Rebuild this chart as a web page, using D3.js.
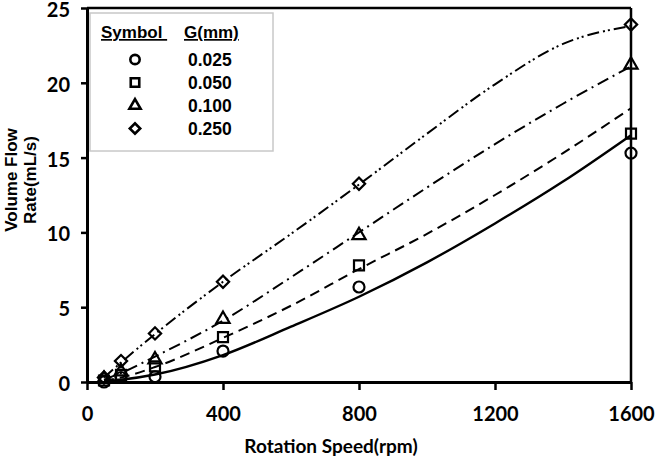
<!DOCTYPE html>
<html>
<head>
<meta charset="utf-8">
<script src="https://cdn.jsdelivr.net/npm/d3@7"></script>
<style>
  body { margin: 0; background: #fff; }
  svg { display: block; }
</style>
</head>
<body>
<div id="chart"></div>
<script>
// measured points
var rpm = [50, 100, 200, 400, 800, 1600];
var meas025 = [0.0, 0.3, 0.35, 2.07, 6.35, 15.3];
var meas050 = [0.1, 0.47, 1.05, 3.0, 7.8, 16.6];
var meas100 = [0.2, 0.7, 1.5, 4.2, 9.8, 21.2];
var meas250 = [0.3, 1.4, 3.25, 6.7, 13.25, 23.9];

// fitted curves
var fitRpm = [50, 100, 200, 400, 600, 800, 1000, 1200, 1400, 1600];
var fit025 = [0.05, 0.15, 0.5, 1.8, 3.7, 5.7, 8.0, 10.6, 13.4, 16.5];
var fit050 = [0.1, 0.3, 1.0, 2.95, 5.1, 7.55, 9.9, 12.5, 15.3, 18.3];
var fit100 = [0.15, 0.6, 1.7, 4.1, 7.0, 10.0, 13.0, 15.9, 18.6, 21.1];
var fit250 = [0.3, 1.3, 3.2, 6.7, 9.9, 13.2, 16.6, 19.9, 22.6, 23.8];

var gLabels = ["0.025", "0.050", "0.100", "0.250"];
var xTicks = [0, 400, 800, 1200, 1600];
var yTicks = [0, 5, 10, 15, 20, 25];

var outwidth = 656, outheight = 464;
var margin = {left: 87, top: 8, right: 25, bottom: 82};
var width = outwidth - margin.left - margin.right;
var height = outheight - margin.top - margin.bottom;

var series = [
    {g: gLabels[0], pts: meas025, fit: fit025, dash: null, sym: "circle"},
    {g: gLabels[1], pts: meas050, fit: fit050, dash: "10,6", sym: "square"},
    {g: gLabels[2], pts: meas100, fit: fit100, dash: "12,5,2,5", sym: "triangle"},
    {g: gLabels[3], pts: meas250, fit: fit250, dash: "12,4,2,3,2,4", sym: "diamond"}
];

var svg = d3.select("#chart").append("svg")
    .attr("width", outwidth)
    .attr("height", outheight);
svg.append("rect").attr("width", outwidth).attr("height", outheight).attr("fill", "#fff");

var g = svg.append("g").attr("transform", `translate(${margin.left},${margin.top})`);

var x = d3.scaleLinear().domain([0, 1600]).range([0, width]);
var y = d3.scaleLinear().domain([0, 25]).range([height, 0]);

function symPath(kind, scale) {
    var s = scale || 1;
    if (kind === "circle") return d3.symbol(d3.symbolCircle, 95 * s * s)();
    if (kind === "square") return d3.symbol(d3.symbolSquare, 100 * s * s)();
    if (kind === "triangle") return d3.symbol(d3.symbolTriangle, 75 * s * s)();
    return d3.symbol(d3.symbolSquare, 75 * s * s)();
}

// frame (top + right)
g.append("line").attr("x1", 0).attr("x2", width).attr("y1", 0).attr("y2", 0)
    .attr("stroke", "#000").attr("stroke-width", 2.5);
g.append("line").attr("x1", width).attr("x2", width).attr("y1", 0).attr("y2", height)
    .attr("stroke", "#000").attr("stroke-width", 2.5);

// axes
var xAxis = g.append("g")
    .attr("transform", `translate(0,${height})`)
    .call(d3.axisBottom(x).tickValues(xTicks).tickFormat(d3.format("d"))
        .tickSize(8).tickSizeOuter(0).tickPadding(17));
var yAxis = g.append("g")
    .call(d3.axisLeft(y).tickValues(yTicks).tickSize(6).tickSizeOuter(0).tickPadding(11));

[xAxis, yAxis].forEach(function (ax) {
    ax.select(".domain").attr("stroke", "#000").attr("stroke-width", 3);
    ax.selectAll(".tick line").attr("stroke", "#000").attr("stroke-width", 2.5);
    ax.selectAll(".tick text")
        .attr("fill", "#000")
        .style("font-family", "Lato, 'Open Sans', sans-serif")
        .style("font-weight", "bold")
        .style("font-size", "20px");
});
yAxis.selectAll(".tick text").attr("dy", "0.42em");

// fitted curves
var line = d3.line()
    .x(function (d) { return x(d[0]); })
    .y(function (d) { return y(d[1]); })
    .curve(d3.curveMonotoneX);

series.forEach(function (s) {
    g.append("path")
        .datum(fitRpm.map(function (r, i) { return [r, s.fit[i]]; }))
        .attr("d", line)
        .attr("fill", "none")
        .attr("stroke", "#000")
        .attr("stroke-width", s.dash ? 2 : 2.4)
        .attr("stroke-dasharray", s.dash);
});

// markers
series.forEach(function (s) {
    g.selectAll(null)
        .data(rpm.map(function (r, i) { return [r, s.pts[i]]; }))
        .join("path")
        .attr("d", symPath(s.sym))
        .attr("transform", function (d) {
            return `translate(${x(d[0])},${y(d[1])})` + (s.sym === "diamond" ? " rotate(45)" : "");
        })
        .attr("fill", "none")
        .attr("stroke", "#000")
        .attr("stroke-width", 2.2);
});

// legend
var leg = svg.append("g").attr("transform", "translate(90,13)");
leg.append("rect").attr("x", 0).attr("y", 0).attr("width", 183).attr("height", 138)
    .attr("fill", "#fff").attr("stroke", "#c8c8c8").attr("stroke-width", 1.5);
var legFont = "'Liberation Sans', Arial, sans-serif";
leg.append("text").attr("x", 11).attr("y", 25).text("Symbol\u00a0")
    .style("font-family", legFont).style("font-weight", "bold").style("font-size", "17px")
    .style("text-decoration", "underline");
leg.append("text").attr("x", 94).attr("y", 25).text("G(mm)")
    .style("font-family", legFont).style("font-weight", "bold").style("font-size", "17px")
    .style("text-decoration", "underline");
series.forEach(function (s, i) {
    var cy = 46.5 + i * 23;
    leg.append("path")
        .attr("d", symPath(s.sym, 0.85))
        .attr("transform", `translate(45,${cy})` + (s.sym === "diamond" ? " rotate(45)" : ""))
        .attr("fill", "none").attr("stroke", "#000").attr("stroke-width", 2.6);
    leg.append("text").attr("x", 98).attr("y", cy + 6).text(s.g)
        .style("font-family", legFont).style("font-weight", "bold").style("font-size", "17.5px");
});

// axis titles
svg.append("text")
    .attr("x", 331).attr("y", 453)
    .attr("text-anchor", "middle")
    .style("font-family", "Lato, 'Open Sans', sans-serif")
    .style("font-weight", "bold").style("font-size", "19px")
    .text("Rotation Speed(rpm)");

var yt = svg.append("text")
    .attr("transform", "translate(0,180) rotate(-90)")
    .attr("text-anchor", "middle")
    .style("font-family", legFont)
    .style("font-weight", "bold").style("font-size", "17px");
yt.append("tspan").attr("x", 0).attr("y", 17).text("Volume Flow");
yt.append("tspan").attr("x", 0).attr("y", 36).text("Rate(mL/s)");
</script>
</body>
</html>
